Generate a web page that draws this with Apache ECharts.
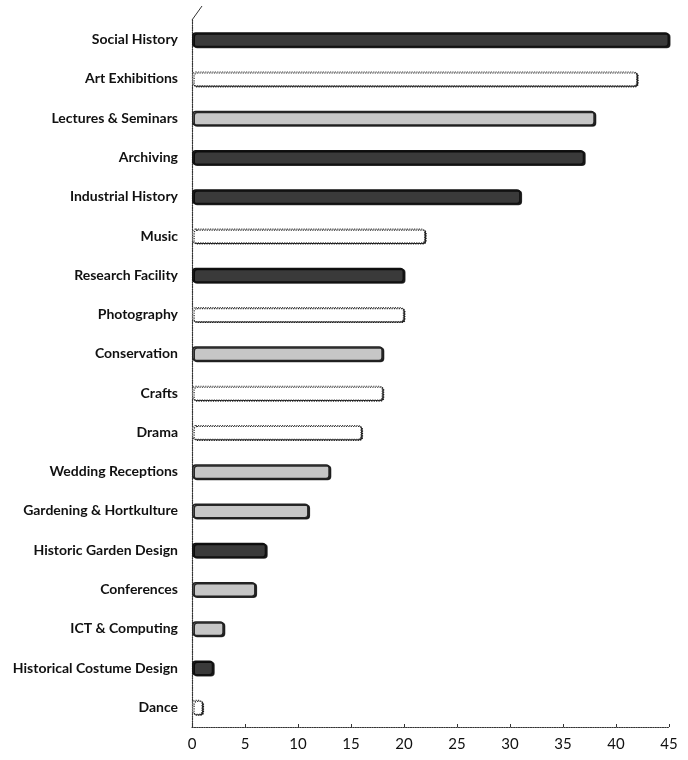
<!DOCTYPE html>
<html><head><meta charset="utf-8">
<script src="https://cdn.jsdelivr.net/npm/echarts@6/dist/echarts.min.js"></script>
<style>html,body{margin:0;padding:0;background:#fff}#c{width:688px;height:760px}</style>
</head><body><div id="c"></div>
<script>
const categories = ['Social History','Art Exhibitions','Lectures & Seminars','Archiving','Industrial History','Music','Research Facility','Photography','Conservation','Crafts','Drama','Wedding Receptions','Gardening & Hortkulture','Historic Garden Design','Conferences','ICT & Computing','Historical Costume Design','Dance'];
const values = [45,42,38,37,31,22,20,20,18,18,16,13,11,7,6,3,2,1];
const shades = ['dark','white','light','dark','dark','white','dark','white','light','white','white','light','light','dark','light','light','dark','white'];
const xTicks = [0,5,10,15,20,25,30,35,40,45];

const styles = {
  dark: {color:'#3a3a3a', borderColor:'#111', borderWidth:1.5, borderRadius:3, shadowColor:'rgba(0,0,0,0.8)', shadowOffsetX:1.5, shadowOffsetY:1},
  light:{color:'#c6c6c6', borderColor:'#222', borderWidth:1.5, borderRadius:3, shadowColor:'rgba(0,0,0,0.8)', shadowOffsetX:1.5, shadowOffsetY:1},
  white:{color:'#ffffff', borderColor:'#444', borderWidth:1.2, borderType:'dotted', borderRadius:3, shadowColor:'rgba(0,0,0,0.85)', shadowOffsetX:1.5, shadowOffsetY:1}
};
const chart = echarts.init(document.getElementById('c'));
chart.setOption({
  animation:false,
  grid:{left:192, right:19, top:20, bottom:33},
  xAxis:{type:'value', min:xTicks[0], max:xTicks[xTicks.length-1], interval:5,
    axisLine:{show:true, lineStyle:{color:'#333', type:'dotted', width:1.2}},
    axisTick:{show:true, length:3, inside:true, lineStyle:{color:'#333'}},
    splitLine:{show:false},
    axisLabel:{color:'#111', fontFamily:'Lato', fontSize:15, margin:10}},
  yAxis:{type:'category', inverse:true, data:categories,
    axisLine:{show:true, lineStyle:{color:'#333', type:'dotted', width:1.2}},
    axisTick:{show:false},
    axisLabel:{color:'#111', fontFamily:'Lato', fontSize:14, fontWeight:'bold', margin:14}},
  graphic:[{type:'line', shape:{x1:192,y1:20,x2:202,y2:6}, style:{stroke:'#333', lineWidth:1}}],
  series:[{type:'bar', barWidth:15,
    data: values.map((v,i)=>({value:v, itemStyle:styles[shades[i]]}))}]
});
</script></body></html>
